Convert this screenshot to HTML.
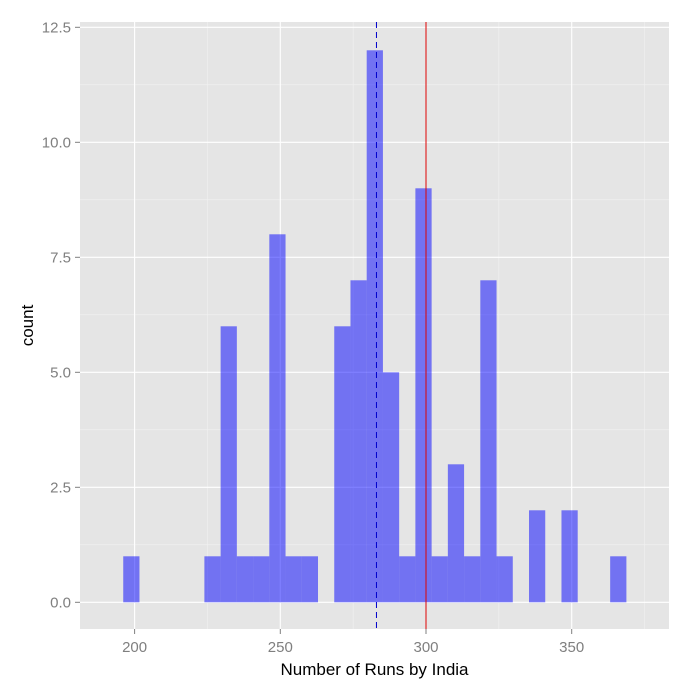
<!DOCTYPE html>
<html><head><meta charset="utf-8"><style>
body{margin:0;background:#fff}
svg text{font-family:"Liberation Sans",Arial,sans-serif}
</style></head><body>
<svg id="c" width="693" height="692" xmlns="http://www.w3.org/2000/svg"></svg>
<script>
const binStart = 196.1;
const binWidth = 5.57;
const counts = [1,0,0,0,0,1,6,1,1,8,1,1,0,6,7,12,5,1,9,1,3,1,7,1,0,2,0,2,0,0,1];
const xTicks = [200,250,300,350];
const yTicks = [0,2.5,5,7.5,10,12.5];
const yTickLabels = ["0.0","2.5","5.0","7.5","10.0","12.5"];
const meanValue = 283;
const refValue = 300;

const L=80,R=669,T=22,B=629;
const x=v=>134.6+(v-200)*2.914;
const y=v=>602.3-v*46;
const svg=document.getElementById('c');
const NS='http://www.w3.org/2000/svg';
function mk(t,a,p){const e=document.createElementNS(NS,t);for(const k in a)e.setAttribute(k,a[k]);(p||svg).appendChild(e);return e;}
const bg=mk('rect',{x:L,y:T,width:R-L,height:B-T,fill:'#E5E5E5'});


for(let v=175;v<=400;v+=50){const px=x(v);if(px>L&&px<R){const g=mk('line',{x1:px,x2:px,y1:T,y2:B,stroke:'#F2F2F2','stroke-width':0.6});}}
for(let v=-1.25;v<=13;v+=2.5){const py=y(v);if(py>T&&py<B){const g=mk('line',{x1:L,x2:R,y1:py,y2:py,stroke:'#F2F2F2','stroke-width':0.6});}}
xTicks.forEach(v=>{const px=x(v);
const g=mk('line',{x1:px,x2:px,y1:T,y2:B,stroke:'#fff','stroke-width':1.1});
const tk=mk('line',{x1:px,x2:px,y1:B,y2:B+5,stroke:'#7F7F7F'});
const t=mk('text',{x:px,y:B+23,'text-anchor':'middle','font-size':15,fill:'#7F7F7F'});t.textContent=v;});
yTicks.forEach((v,i)=>{const py=y(v);
const g=mk('line',{x1:L,x2:R,y1:py,y2:py,stroke:'#fff','stroke-width':1.1});
const tk=mk('line',{x1:L-5,x2:L,y1:py,y2:py,stroke:'#7F7F7F'});
const t=mk('text',{x:L-9,y:py+5,'text-anchor':'end','font-size':15,fill:'#7F7F7F'});t.textContent=yTickLabels[i];});
counts.forEach((c,i)=>{if(!c)return;const x0=x(binStart+i*binWidth),x1=x(binStart+(i+1)*binWidth);
const r=mk('rect',{x:x0,y:y(c),width:x1-x0,height:y(0)-y(c),fill:'rgba(0,0,255,0.5)'});

});
const m=mk('line',{x1:x(meanValue),x2:x(meanValue),y1:T,y2:B,stroke:'#0000cc','stroke-dasharray':'6,4','stroke-width':1});

const rl=mk('line',{x1:x(refValue),x2:x(refValue),y1:T,y2:B,stroke:'#dd0000','stroke-width':1});

const xt=mk('text',{x:(L+R)/2,y:675,'text-anchor':'middle','font-size':17,fill:'#000'});xt.textContent='Number of Runs by India';

const yt=mk('text',{x:0,y:0,'text-anchor':'middle','font-size':17,fill:'#000',transform:`translate(33,${(T+B)/2}) rotate(-90)`});yt.textContent='count';

</script>
</body></html>
